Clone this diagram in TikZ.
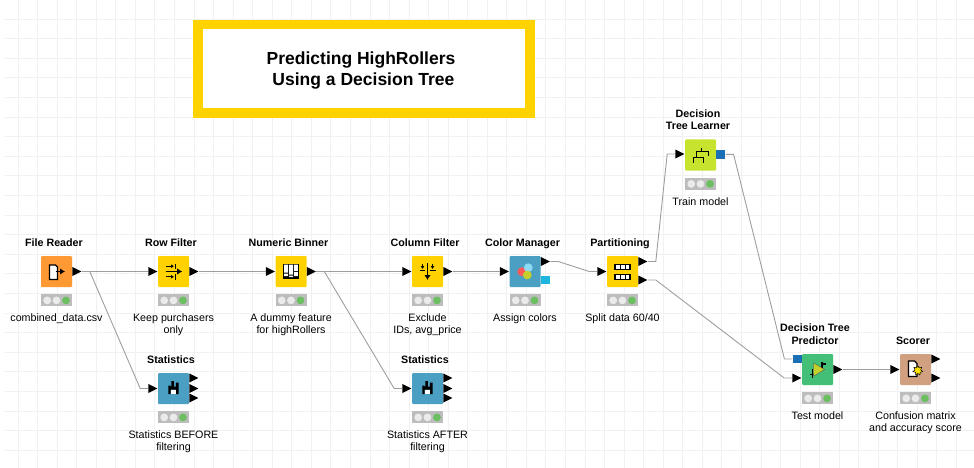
\documentclass[tikz,border=0pt]{standalone}
\usepackage{fontspec}
\setmainfont{Liberation Sans}
\usetikzlibrary{positioning}
\usetikzlibrary{calc}
\usetikzlibrary{arrows.meta}
\usetikzlibrary{shapes.geometric}
\definecolor{knime-orange}{HTML}{FF9933}
\definecolor{knime-yellow}{HTML}{FFD200}
\definecolor{knime-blue}{HTML}{4A9FC2}
\definecolor{knime-lime}{HTML}{C8E32E}
\definecolor{knime-green}{HTML}{43BF78}
\definecolor{knime-tan}{HTML}{D0A080}
\definecolor{model-blue}{HTML}{1B6FB5}
\definecolor{spec-cyan}{HTML}{1CB6DF}
\definecolor{grid-gray}{HTML}{F1F1F1}
\definecolor{lamp-green}{HTML}{6CBF60}
\definecolor{triangle-lime}{HTML}{C6D02C}
\tikzset{
  knode/.style={rounded corners=1pt, minimum size=31pt, inner sep=0pt},
  head/.style={font=\fontsize{10.7}{12.5}\selectfont\bfseries, align=center, inner sep=0pt, xshift=-2.5pt},
  caption/.style={font=\fontsize{10.7}{12}\selectfont, align=center, inner sep=0pt},
  lights/.style={fill=black!26, minimum width=31pt, minimum height=12pt, inner sep=0pt},
  lamp/.style={circle, fill=black!8, minimum size=7.8pt, inner sep=0pt},
  inport/.style={isosceles triangle, isosceles triangle apex angle=60, isosceles triangle stretches,
    minimum width=9pt, minimum height=9pt, inner sep=0pt, fill=black, anchor=apex},
  outport/.style={inport, anchor=lower side},
  square port/.style={minimum width=9pt, minimum height=8.5pt, inner sep=0pt},
  wire/.style={draw=black!38, line width=.9pt, to path={-- ++(8,0) -- ($(\tikztotarget)+(-8,0)$) -- (\tikztotarget)}},
  big head/.style={-{Latex[length=5pt,width=6.5pt]}},
  small head/.style={-{Latex[length=3pt,width=4pt]}},
}
\newcommand\icreader{%
  \draw[fill=white, line width=1.1pt] (-7,-6.5) -- (-1,-6.5) -- (1,-4.5) -- (1,8) -- (-7,8) -- cycle;
  \draw[line width=1.3pt, big head] (-1,0) -- (8.5,0);}
\newcommand\icrowfilter{%
  \draw[line width=1.4pt, big head] (-8,0) -- (8.7,0);
  \draw[line width=.8pt, small head] (-7.7,-5.3) -- (0.5,-5.3);
  \draw[line width=.8pt, small head] (-7.7,5.3) -- (0.5,5.3);
  \draw[line width=.8pt] (1.5,-8) -- (1.5,-2.8) (1.5,2.8) -- (1.5,8);}
\newcommand\icbinner{%
  \fill (-7.7,-7.7) rectangle (7.7,7.7);
  \fill[white] (-6.8,-6.8) rectangle (-3,1) (-6.8,2) rectangle (-3,4.5)
    (-2,-6.8) rectangle (2,3) (-2,4) rectangle (2,5.5)
    (3,-6.8) rectangle (6.8,-.5) (3,.5) rectangle (6.8,4.5);}
\newcommand\iccolfilter{%
  \draw[line width=1.4pt, big head] (0,-8.5) -- (0,8.5);
  \draw[line width=.8pt, small head] (-5,-8) -- (-5,-2.5);
  \draw[line width=.8pt, small head] (5,-8) -- (5,-2.5);
  \draw[line width=.8pt] (-8,-1.5) -- (-2.2,-1.5) (2.2,-1.5) -- (8,-1.5);}
\newcommand\iccolormgr{%
  \fill[red!65!white] (-3.3,.2) circle (4.4);
  \fill[cyan!45!white] (3.3,-3.8) circle (4.4);
  \fill[triangle-lime] (2.3,3.5) circle (4.4);}
\newcommand\icpartition{%
  \foreach \j in {-7.3,2.7} {
    \draw[fill=white, line width=1.1pt] (-7.5,\j) rectangle (7.5,\j+5);
    \draw[line width=1pt] (-2.5,\j) -- (-2.5,\j+5) (2.5,\j) -- (2.5,\j+5);
  }}
\newcommand\icstats{%
  \fill (-5.2,-3) rectangle (-2.8,5.5) (-2.2,-7.5) rectangle (.4,1) (2.4,-6) rectangle (5,5.5) (-5.2,-2) rectangle (5,1);
  \fill[white] (-2.8,1) rectangle (2.4,5.5);}
\newcommand\iclearner{%
  \draw[line width=1.4pt] (1,-7) -- (1,-3.3) (-4,2.3) -- (-4,-3.3) -- (8,-3.3) -- (8,0.5)
    (-7,7.5) -- (-7,2.3) -- (3,2.3) -- (3,7.5);}
\newcommand\icpredictor{%
  \draw[line width=1.8pt] (-7.5,5) -- (-4,5) (-5,-1) -- (-5,8) (4.5,-8) -- (4.5,-1) (4.5,-5.5) -- (8,-5.5);
  \fill[triangle-lime, draw=black!70, line width=.3pt] (-4,-6.7) -- (7,0) -- (-4,6.7) -- cycle;}
\newcommand\icscorer{%
  \draw[fill=white, line width=1.1pt] (-7,-8.5) -- (-1,-8.5) -- (1.5,-6) -- (1.5,7) -- (-7,7) -- cycle;
  \node[star, star points=7, star point ratio=1.7, fill=yellow!85!orange, draw=black, line width=.5pt, minimum size=10pt, inner sep=0pt] (scorer-star) at (2.3,1) {};}
\begin{document}
\begin{tikzpicture}[x=1pt, y=-1pt]
\useasboundingbox (0,0) rectangle (974,468);
\foreach \k in {1,...,49}
  \draw[grid-gray, line width=.9pt] ({-1.5+19.55*\k},0) -- ({-1.5+19.55*\k},468);
\foreach \k in {1,...,23}
  \draw[grid-gray, line width=.9pt] (5,{-.5+19.6*\k}) -- (974,{-.5+19.6*\k});
\node[draw=knime-yellow, line width=9.5pt, fill=white, minimum width=332pt, minimum height=88.3pt]
  (banner)
  at (364, 68.8)
  {};
\node[font=\fontsize{17.5}{21}\selectfont\bfseries, align=center, inner sep=0pt]
  (banner-text)
  at (361, 71)
  {Predicting HighRollers\\~Using a Decision Tree};
\foreach \x/\y/\name/\col/\icon/\headtext/\captext in {
    56.5/271.5/reader/knime-orange/reader/{File Reader}/{combined\_data.csv},
    173.5/271.5/rowfilter/knime-yellow/rowfilter/{Row Filter}/{Keep purchasers\\only},
    291/271.5/binner/knime-yellow/binner/{Numeric Binner}/{A dummy feature\\for highRollers},
    427.5/271.5/colfilter/knime-yellow/colfilter/{Column Filter}/{Exclude\\IDs, avg\_price},
    525/271.5/colormgr/knime-blue/colormgr/{Color Manager}/{Assign colors},
    622.5/271.5/partition/knime-yellow/partition/{Partitioning}/{Split data 60/40},
    173.5/388.5/statsa/knime-blue/stats/{Statistics}/{Statistics BEFORE\\filtering},
    427.5/388.5/statsb/knime-blue/stats/{Statistics}/{Statistics AFTER\\filtering},
    700.5/155/learner/knime-lime/learner/{Decision\\Tree Learner}/{Train model},
    817.5/369.5/predictor/knime-green/predictor/{Decision Tree\\Predictor}/{Test model},
    915.5/369.5/scorer/knime-tan/scorer/{Scorer}/{Confusion matrix\\and accuracy score}} {
  \node[knode, fill=\col] (\name) at (\x,\y) {};
  \node[head, above=5.4pt of \name] (\name-head) {\headtext\strut};
  \node[lights, below=7pt of \name] (\name-lights) {};
  \foreach \i/\dx in {1/-9.3, 2/0} {
    \node[lamp] (\name-lamp\i) at ($(\name-lights)+(\dx,0)$) {};
  }
  \node[lamp, fill=lamp-green] (\name-lamp3) at ($(\name-lights)+(9.5,0)$) {};
  \node[caption, below=6.6pt of \name-lights] (\name-caption) {\strut\captext};
  \begin{scope}[shift={(\x,\y)}]
    \csname ic\icon\endcsname
  \end{scope}
}
% ports
\foreach \name/\port/\dy in {rowfilter/in/0, binner/in/0, colfilter/in/0, colormgr/in/0, partition/in/0,
    statsa/in/0, statsb/in/0, learner/in/-1, predictor/in/8.5, scorer/in/0} {
  \node[inport] (\name-\port) at ($(\name.west)+(0,\dy)$) {};
}
\foreach \name/\port/\dy in {reader/out/0, rowfilter/out/0, binner/out/0, colfilter/out/0, colormgr/out/-10,
    partition/outa/-10, partition/outb/8.5, statsa/outa/-10.5, statsa/outb/0, statsa/outc/9.5,
    statsb/outa/-10.5, statsb/outb/0, statsb/outc/9.5, predictor/out/0, scorer/outa/-10.5, scorer/outb/8.5} {
  \node[outport] (\name-\port) at ($(\name.east)+(0,\dy)$) {};
}
\node[square port, fill=model-blue, anchor=west] (learner-model) at ($(learner.east)+(0,-.6)$) {};
\node[square port, fill=model-blue, anchor=east] (predictor-model) at ($(predictor.west)+(0,-10.5)$) {};
\node[square port, fill=spec-cyan, anchor=west] (colormgr-spec) at ($(colormgr.east)+(0,8.5)$) {};
% connectors
\foreach \from/\to in {
    reader-out.apex/rowfilter-in.lower side,
    reader-out.apex/statsa-in.lower side,
    rowfilter-out.apex/binner-in.lower side,
    binner-out.apex/colfilter-in.lower side,
    binner-out.apex/statsb-in.lower side,
    colfilter-out.apex/colormgr-in.lower side,
    colormgr-out.apex/partition-in.lower side,
    partition-outa.apex/learner-in.lower side,
    partition-outb.apex/predictor-in.lower side,
    learner-model.east/predictor-model.west,
    predictor-out.apex/scorer-in.lower side} {
  \draw[wire] (\from) to (\to);
}
\end{tikzpicture}
\end{document}
